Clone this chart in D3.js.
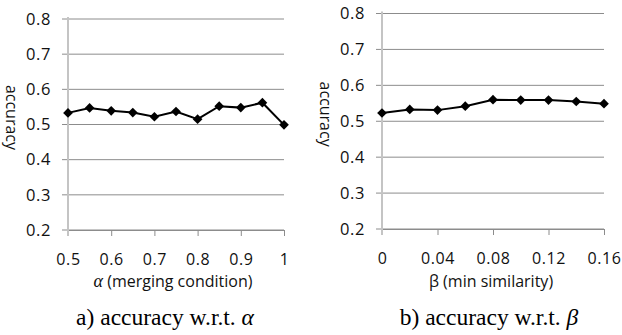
<!DOCTYPE html>
<html>
<head>
<meta charset="utf-8">
<script src="https://cdn.jsdelivr.net/npm/d3@7"></script>
<style>
  body { margin: 0; background: #fff; }
  svg { display: block; }
</style>
</head>
<body>
<svg id="chart" width="622" height="335"></svg>
<script>
//data
const yTicks = [0.2, 0.3, 0.4, 0.5, 0.6, 0.7, 0.8];

const alphaValues = [0.5, 0.55, 0.6, 0.65, 0.7, 0.75, 0.8, 0.85, 0.9, 0.95, 1.0];
const alphaAccuracy = [0.533, 0.547, 0.539, 0.534, 0.522, 0.537, 0.515, 0.552, 0.548, 0.562, 0.499];
const alphaTicks = [0.5, 0.6, 0.7, 0.8, 0.9, 1];

const betaValues = [0, 0.02, 0.04, 0.06, 0.08, 0.10, 0.12, 0.14, 0.16];
const betaAccuracy = [0.523, 0.533, 0.531, 0.542, 0.560, 0.559, 0.559, 0.555, 0.549];
const betaTicks = [0, 0.04, 0.08, 0.12, 0.16];

const svg = d3.select("#chart");
const sans = "'Open Sans', sans-serif";
const gridColor = "#8c8c8c";
const textColor = "#111";

//one panel of the figure
function drawPanel(p) {
    const g = svg.append("g");
    const x = d3.scaleLinear().domain(p.xDomain).range([p.left, p.right]);
    const y = d3.scaleLinear().domain([0.2, 0.8]).range([p.bottom, p.top]);

    //horizontal gridlines, with the little tick sticking out on the left
    g.selectAll(".grid")
        .data(yTicks)
        .join("line")
        .attr("x1", p.left - 6)
        .attr("x2", p.right)
        .attr("y1", d => y(d))
        .attr("y2", d => y(d))
        .attr("stroke", gridColor)
        .attr("stroke-width", 1);

    //y tick labels
    const yAxis = g.append("g")
        .attr("transform", `translate(${p.left},0)`)
        .call(d3.axisLeft(y).tickValues(yTicks).tickFormat(d3.format(".1f")).tickSize(0).tickPadding(17));
    yAxis.select(".domain").remove();
    yAxis.selectAll("text")
        .attr("font-family", sans)
        .attr("font-size", 16.5)
        .attr("letter-spacing", 0.6)
        .attr("fill", textColor);

    //x axis with ticks pointing down
    const xAxis = g.append("g")
        .attr("transform", `translate(0,${p.bottom})`)
        .call(d3.axisBottom(x).tickValues(p.xTicks).tickFormat(d => d3.format("")(+d.toFixed(2))).tickSize(6).tickSizeOuter(0));
    xAxis.select(".domain").attr("stroke", gridColor);
    xAxis.selectAll(".tick line").attr("stroke", gridColor);
    xAxis.selectAll("text")
        .attr("y", 35)
        .attr("dy", 0)
        .attr("font-family", sans)
        .attr("font-size", 16)
        .attr("letter-spacing", 0.6)
        .attr("fill", textColor);

    //light vertical axis line
    g.append("line")
        .attr("x1", p.left).attr("x2", p.left)
        .attr("y1", p.top - 2).attr("y2", p.bottom + 6)
        .attr("stroke", "#c4c4c4")
        .attr("stroke-width", 2);

    //the series
    const pts = p.xs.map((v, i) => [v, p.ys[i]]);
    g.append("path")
        .datum(pts)
        .attr("fill", "none")
        .attr("stroke", "#000")
        .attr("stroke-width", 2)
        .attr("d", d3.line().x(d => x(d[0])).y(d => y(d[1])));
    g.selectAll(".mark")
        .data(pts)
        .join("path")
        .attr("transform", d => `translate(${x(d[0])},${y(d[1])})`)
        .attr("d", d3.symbol(d3.symbolDiamond2, 60))
        .attr("fill", "#000");

    //y axis title, rotated clockwise
    g.append("text")
        .attr("transform", `translate(${p.left - 56},${y(0.52)}) rotate(90)`)
        .attr("text-anchor", "middle")
        .attr("dy", "0.35em")
        .attr("font-family", sans)
        .attr("font-size", 16)
        .attr("fill", textColor)
        .text("accuracy");

    //x axis title
    const xt = g.append("text")
        .attr("x", p.titleX)
        .attr("y", 287)
        .attr("text-anchor", "middle")
        .attr("font-family", sans)
        .attr("font-size", 16)
        .attr("fill", textColor);
    xt.append("tspan").attr("font-style", p.symItalic ? "italic" : "normal")
        .attr("font-family", p.symItalic ? "'Liberation Serif', serif" : sans)
        .attr("font-size", p.symItalic ? 18 : 16)
        .text(p.sym);
    xt.append("tspan").text(" " + p.xTitle);

    //caption under the panel
    const cap = g.append("text")
        .attr("x", p.captionX)
        .attr("y", 325)
        .attr("text-anchor", "middle")
        .attr("font-family", "'Liberation Serif', serif")
        .attr("font-size", 23.5)
        .attr("fill", "#000");
    cap.append("tspan").text(p.caption + " ");
    cap.append("tspan").attr("font-style", "italic").text(p.sym);
}

drawPanel({
    left: 68, right: 284, top: 19, bottom: 230,
    xDomain: [0.5, 1], xTicks: alphaTicks,
    xs: alphaValues, ys: alphaAccuracy,
    sym: "α", symItalic: true, xTitle: "(merging condition)", titleX: 173,
    caption: "a) accuracy w.r.t.", captionX: 165
});

drawPanel({
    left: 382, right: 604, top: 13.5, bottom: 229,
    xDomain: [0, 0.16], xTicks: betaTicks,
    xs: betaValues, ys: betaAccuracy,
    sym: "β", symItalic: false, xTitle: "(min similarity)", titleX: 491,
    caption: "b) accuracy w.r.t.", captionX: 489
});
</script>
</body>
</html>
